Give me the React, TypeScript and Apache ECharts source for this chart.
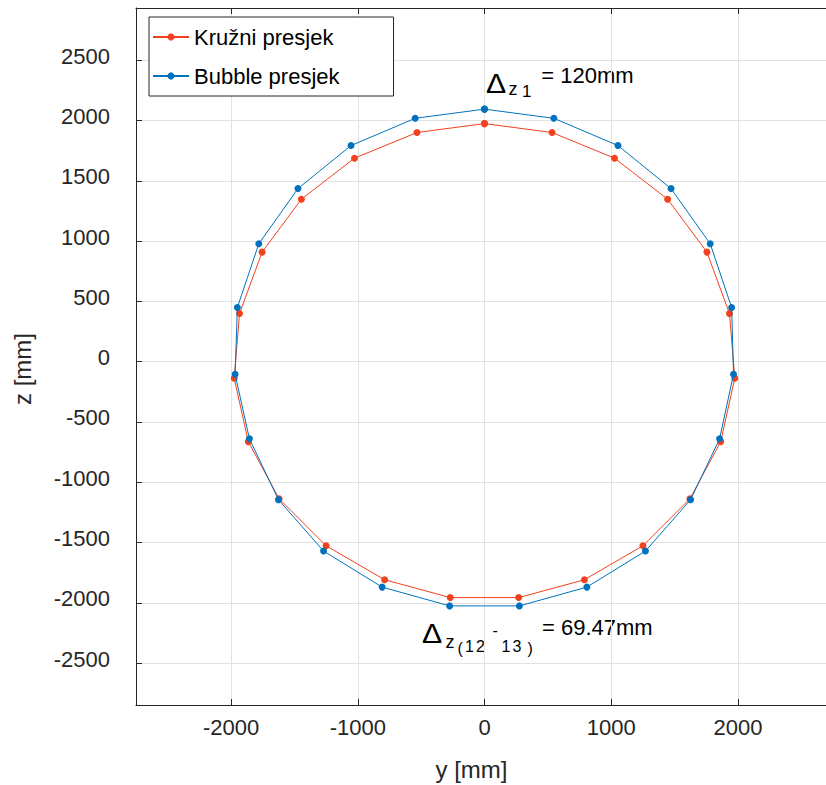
import React, { useEffect, useRef } from 'react';
import * as echarts from 'echarts';

// ---- data ----
const seriesNames = ['Kružni presjek', 'Bubble presjek'];
const seriesColors = ['#F2411E', '#0072BD'];

// Kružni presjek (circular section): y [mm], z [mm]
const kruzniY = [0, 533, 1026, 1445, 1755, 1933, 1975, 1864, 1621, 1250, 788, 270, -270, -788, -1250, -1621, -1864, -1975, -1933, -1755, -1445, -1026, -533];
const kruzniZ = [1975, 1901, 1688, 1348, 909, 400, -137, -663, -1137, -1527, -1809, -1957, -1957, -1809, -1527, -1137, -663, -137, 400, 909, 1348, 1688, 1901];

// Bubble presjek: y [mm], z [mm]
const bubbleY = [0, 547, 1053, 1472, 1781, 1950, 1965, 1855, 1626, 1270, 808, 275, -275, -808, -1270, -1626, -1855, -1968, -1950, -1781, -1472, -1053, -547];
const bubbleZ = [2095, 2019, 1793, 1436, 978, 450, -104, -640, -1145, -1571, -1870, -2026, -2026, -1870, -1571, -1145, -640, -104, 450, 978, 1436, 1793, 2019];

const xTickLabels = [-2000, -1000, 0, 1000, 2000];
const yTickLabels = [-2500, -2000, -1500, -1000, -500, 0, 500, 1000, 1500, 2000, 2500];

const X_MIN = -2750;
const X_MAX = 2750;
const Y_MIN = -2848;
const Y_MAX = 2934;

const FONT = '"Liberation Sans", Arial, Helvetica, sans-serif';
const AXIS_COLOR = '#262626';
const GRID_COLOR = '#e2e2e2';

function closedPolygon(ys: number[], zs: number[]) {
  const pts = ys.map((y, i) => [y, zs[i]]);
  pts.push([ys[0], zs[0]]);
  return pts;
}

function txt(text: string, x: number, baseline: number, fs: number, extra: any = {}) {
  return {
    type: 'text',
    x,
    y: baseline - 0.3465 * fs,
    silent: true,
    ...extra,
    style: {
      text,
      fontSize: fs,
      fontFamily: FONT,
      fill: '#000',
      align: 'left',
      verticalAlign: 'middle',
      textAlign: 'left',
      textVerticalAlign: 'middle',
      ...(extra.style || {}),
    },
  };
}

export default function App() {
  const ref = useRef<HTMLDivElement>(null);

  useEffect(() => {
    if (!ref.current) return;
    const chart = echarts.init(ref.current, undefined, { renderer: 'svg' });

    const axisCommon = {
      type: 'value',
      axisLine: { show: true, onZero: false, lineStyle: { color: AXIS_COLOR, width: 1 } },
      axisTick: { show: true, inside: true, length: 6, lineStyle: { color: AXIS_COLOR, width: 1 } },
    };

    const option: any = {
      animation: false,
      backgroundColor: '#fff',
      grid: { left: 136, top: 8, right: 7, bottom: 80, containLabel: false },
      xAxis: [
        {
          ...axisCommon,
          position: 'bottom',
          min: X_MIN,
          max: X_MAX,
          splitNumber: 5,
          axisLabel: {
            show: true,
            margin: 11,
            fontSize: 22,
            fontFamily: FONT,
            color: AXIS_COLOR,
            showMinLabel: false,
            showMaxLabel: false,
            formatter: (v: number) => (xTickLabels.includes(v) ? String(v) : ''),
          },
          splitLine: { show: true, lineStyle: { color: GRID_COLOR, width: 1 } },
        },
        {
          ...axisCommon,
          position: 'top',
          min: X_MIN,
          max: X_MAX,
          splitNumber: 5,
          axisLabel: { show: false },
          splitLine: { show: false },
        },
      ],
      yAxis: [
        {
          ...axisCommon,
          position: 'left',
          min: Y_MIN,
          max: Y_MAX,
          splitNumber: 12,
          axisLabel: {
            show: true,
            margin: 26,
            fontSize: 22,
            fontFamily: FONT,
            color: AXIS_COLOR,
            verticalAlign: 'bottom',
            lineHeight: 8,
            showMinLabel: false,
            showMaxLabel: false,
            formatter: (v: number) => (yTickLabels.includes(v) ? String(v) : ''),
          },
          splitLine: { show: true, lineStyle: { color: GRID_COLOR, width: 1 } },
        },
        {
          ...axisCommon,
          position: 'right',
          min: Y_MIN,
          max: Y_MAX,
          splitNumber: 12,
          axisLabel: { show: false },
          splitLine: { show: false },
        },
      ],
      legend: {
        show: true,
        orient: 'vertical',
        left: 149,
        top: 17,
        itemWidth: 36,
        itemHeight: 9,
        itemGap: 17,
        padding: [9, 54, 9, 3],
        borderColor: AXIS_COLOR,
        borderWidth: 1,
        backgroundColor: '#fff',
        selectedMode: false,
        textStyle: { fontSize: 22, fontFamily: FONT, color: '#000' },
        data: seriesNames,
      },
      series: [
        {
          type: 'line',
          name: seriesNames[0],
          data: closedPolygon(kruzniY, kruzniZ),
          symbol: 'circle',
          symbolSize: 7,
          showSymbol: true,
          lineStyle: { width: 1, color: seriesColors[0] },
          itemStyle: { color: seriesColors[0] },
          silent: true,
          z: 3,
        },
        {
          type: 'line',
          name: seriesNames[1],
          data: closedPolygon(bubbleY, bubbleZ),
          symbol: 'circle',
          symbolSize: 7,
          showSymbol: true,
          lineStyle: { width: 1, color: seriesColors[1] },
          itemStyle: { color: seriesColors[1] },
          silent: true,
          z: 4,
        },
      ],
      graphic: [
        // axis titles
        txt('y [mm]', 471.5, 769.5 + 0.3465 * 24, 24, {
          style: { align: 'center', textAlign: 'center', fill: AXIS_COLOR },
        }),
        {
          type: 'text',
          x: 22.5,
          y: 369,
          rotation: Math.PI / 2,
          silent: true,
          style: {
            text: 'z [mm]',
            fontSize: 24,
            fontFamily: FONT,
            fill: AXIS_COLOR,
            align: 'center',
            verticalAlign: 'middle',
            textAlign: 'center',
            textVerticalAlign: 'middle',
          },
        },
        // top annotation: Δz1 = 120mm
        txt('Δ', 486, 92.7, 27, { scaleX: 1.12 }),
        txt('z', 508.5, 95, 18),
        txt('1', 522, 97.3, 17),
        txt('= 120mm', 541.3, 82.7, 22),
        // bottom annotation: Δz(12-13) = 69.47mm
        txt('Δ', 422, 643, 27, { scaleX: 1.12 }),
        txt('z', 445.5, 648, 18),
        txt('(', 457.5, 654.5, 16),
        txt('1', 465, 652, 16),
        txt('2', 476, 652, 16),
        txt('-', 492.5, 636.5, 16),
        txt('1', 501.5, 652, 16),
        txt('3', 512.5, 652, 16),
        txt(')', 527.5, 654.5, 16),
        txt('= 69.47mm', 542, 634.7, 22),
      ],
    };

    chart.setOption(option);
    return () => chart.dispose();
  }, []);

  return (
    <div
      style={{
        position: 'absolute',
        left: 0,
        top: 0,
        width: 826,
        height: 785,
        overflow: 'hidden',
        background: '#fff',
      }}
    >
      <div ref={ref} style={{ width: 840, height: 785 }} />
    </div>
  );
}
